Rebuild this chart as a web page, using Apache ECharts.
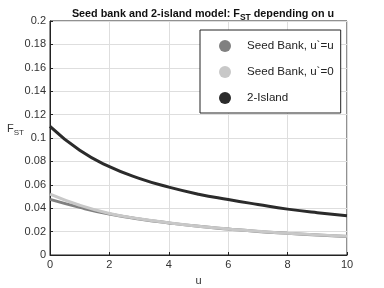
<!DOCTYPE html>
<html><head><meta charset="utf-8">
<script src="https://cdn.jsdelivr.net/npm/echarts@6/dist/echarts.min.js"></script>
<style>html,body{margin:0;padding:0;background:#fff}#c{width:384px;height:288px}</style>
</head><body><div id="c"></div>
<script>
var uValues = [0,1,2,3,4,5,6,7,8,9,10];
var seedBankUU = [0.0475,0.0407,0.0350,0.0308,0.0274,0.0245,0.0222,0.0201,0.0185,0.0171,0.0159];
var seedBankU0 = [0.0520,0.0425,0.0355,0.0310,0.0276,0.0246,0.0223,0.0202,0.0186,0.0172,0.0160];
var twoIsland  = [0.1100,0.0895,0.0755,0.0655,0.0580,0.0520,0.0474,0.0432,0.0392,0.0361,0.0336];
var seriesNames = ['Seed Bank, u`=u','Seed Bank, u`=0','2-Island'];
var seriesColors = ['#808080','#c8c8c8','#2b2b2b'];

function pairs(v){ return uValues.map(function(u,i){return [u,v[i]];}); }
var chart = echarts.init(document.getElementById('c'));
var font = 'Liberation Sans, Arial, sans-serif';
chart.setOption({
  animation:false,
  title:{
    text:'{b|Seed bank and 2-island model: F}{s|ST}{b| depending on u}',
    left:198, top:2, textAlign:'center',
    textStyle:{rich:{
      b:{fontFamily:font,fontWeight:'bold',fontSize:10.8,color:'#111'},
      s:{fontFamily:font,fontWeight:'bold',fontSize:8.5,color:'#111',padding:[6,0,0,0]}
    }}
  },
  graphic:[{
    type:'text', left:7, top:123, z:10,
    style:{
      text:'{f|F}{s|ST}',
      rich:{
        f:{fontFamily:font,fontSize:11,fill:'#333',color:'#333'},
        s:{fontFamily:font,fontSize:8,fill:'#333',color:'#333',padding:[9,0,0,0]}
      }
    }
  }],
  grid:{left:50,right:37,top:21,bottom:33,containLabel:false,outerBoundsMode:'none',
        show:true,borderColor:'#222',borderWidth:1,backgroundColor:'#fff'},
  legend:{
    orient:'vertical', left:200, top:30,
    padding:[10,7,9,19], itemGap:14, itemWidth:12, itemHeight:12,
    backgroundColor:'#fff', borderColor:'#222', borderWidth:1, borderRadius:0,
    icon:'circle',
    textStyle:{fontFamily:font,fontSize:11.6,color:'#222',padding:[0,0,0,11]},
    data:seriesNames
  },
  xAxis:{
    type:'value', min:0, max:10, interval:2,
    name:'u', nameLocation:'middle', nameGap:20,
    nameTextStyle:{fontFamily:font,fontSize:11,color:'#333'},
    axisLine:{show:true,lineStyle:{color:'#222'}},
    axisTick:{show:true,inside:true,length:3,lineStyle:{color:'#222'}},
    axisLabel:{fontFamily:font,fontSize:11,color:'#333',margin:4},
    splitLine:{show:true,lineStyle:{color:'#dedede'}}
  },
  yAxis:{
    type:'value', min:0, max:0.2, interval:0.02,
    axisLine:{show:true,lineStyle:{color:'#222'}},
    axisTick:{show:true,inside:true,length:3,lineStyle:{color:'#222'}},
    axisLabel:{fontFamily:font,fontSize:11,color:'#333',margin:4,
      formatter:function(v){return String(Math.round(v*100)/100);}},
    splitLine:{show:true,lineStyle:{color:'#dedede'}}
  },
  series:[
    {name:seriesNames[0],type:'line',smooth:true,showSymbol:false,data:pairs(seedBankUU),
     itemStyle:{color:seriesColors[0]},lineStyle:{color:seriesColors[0],width:3}},
    {name:seriesNames[1],type:'line',smooth:true,showSymbol:false,data:pairs(seedBankU0),
     itemStyle:{color:seriesColors[1]},lineStyle:{color:seriesColors[1],width:3}},
    {name:seriesNames[2],type:'line',smooth:true,showSymbol:false,data:pairs(twoIsland),
     itemStyle:{color:seriesColors[2]},lineStyle:{color:seriesColors[2],width:3}}
  ]
});
</script></body></html>
